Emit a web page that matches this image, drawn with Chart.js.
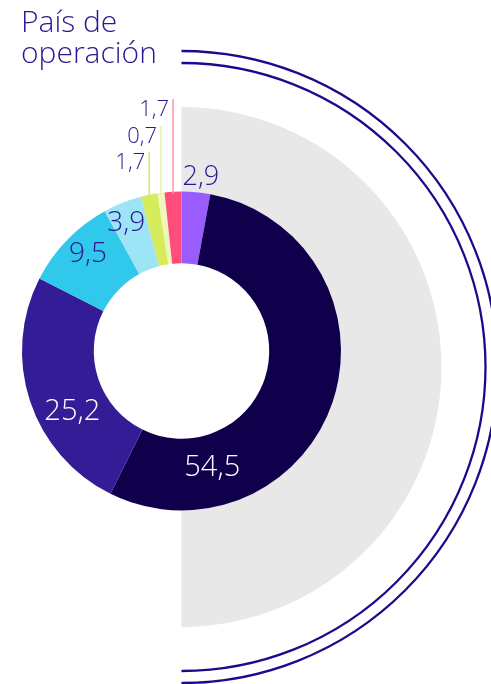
<!DOCTYPE html>
<html>
<head>
<meta charset="utf-8">
<script src="https://cdn.jsdelivr.net/npm/chart.js@4/dist/chart.umd.min.js"></script>
<style>
  body { margin: 0; background: #fff; }
  #wrap { position: relative; width: 491px; height: 684px; }
  #title {
    position: absolute; left: 21px; top: 5px; margin: 0;
    font-family: "Open Sans", sans-serif; font-weight: 300;
    font-size: 30px; line-height: 31px; color: #2b1890;
  }
  canvas { position: absolute; left: 0; top: 0; }
</style>
</head>
<body>
<div id="wrap">
  <canvas id="chart" width="491" height="684"></canvas>
  <h1 id="title">País de<br>operación</h1>
</div>
<script>
let categories = ["País 1", "País 2", "País 3", "País 4", "País 5", "País 6", "País 7", "País 8"];
let values = [2.9, 54.5, 25.2, 9.5, 3.9, 1.7, 0.7, 1.7];
let colors = ["#9b5cff", "#10004b", "#331c95", "#30c9ec", "#9ce4f6", "#d6ec5c", "#eef7bb", "#ff4c7a"];

// how each value label sits: inside the ring, above it, or on a leader line
let labelStyle = [
  { mode: "above", size: 27, color: "#2b1890" },
  { mode: "in", frac: 0.79, r: 121, size: 29, color: "#ffffff" },
  { mode: "in", frac: 0.38, r: 125, size: 29, color: "#ffffff" },
  { mode: "in", frac: 0.56, r: 135, size: 28, color: "#2b1890" },
  { mode: "in", frac: 0.38, r: 139, size: 28, color: "#2b1890" },
  { mode: "lead", top: 152, size: 22, color: "#2b1890", line: "#d6ec5c" },
  { mode: "lead", top: 126, size: 22, color: "#2b1890", line: "#e4f29a" },
  { mode: "lead", top: 99, size: 22, color: "#2b1890", line: "#ff93ad" }
];

function fmt(v) {
  return String(v).replace(".", ",");
}

const decor = {
  id: "decor",
  beforeDatasetsDraw(chart) {
    const ctx = chart.ctx;
    const arc = chart.getDatasetMeta(0).data[0];
    const cx = arc.x, cy = arc.y + 16;
    ctx.save();
    ctx.fillStyle = "#e8e8e8";
    ctx.beginPath();
    ctx.moveTo(cx, cy - 260);
    ctx.arc(cx, cy, 260, -Math.PI / 2, Math.PI / 2);
    ctx.closePath();
    ctx.fill();
    // white hole of the ring
    ctx.fillStyle = "#ffffff";
    ctx.beginPath();
    ctx.arc(arc.x, arc.y, arc.innerRadius + 1, 0, Math.PI * 2);
    ctx.fill();
    ctx.strokeStyle = "#1c0a8c";
    ctx.lineWidth = 2.3;
    [304, 316].forEach(r => {
      ctx.beginPath();
      ctx.arc(cx, cy, r, -Math.PI / 2, Math.PI / 2);
      ctx.stroke();
    });
    ctx.restore();
  }
};

const valueLabels = {
  id: "valueLabels",
  afterDatasetsDraw(chart) {
    const ctx = chart.ctx;
    const arcs = chart.getDatasetMeta(0).data;
    ctx.save();
    arcs.forEach((a, i) => {
      const p = a.getProps(["x", "y", "startAngle", "endAngle", "outerRadius"], true);
      const st = labelStyle[i];
      const text = fmt(values[i]);
      ctx.font = "300 " + st.size + "px 'Open Sans'";
      ctx.fillStyle = st.color;
      if (st.mode == "in") {
        const ang = p.startAngle + st.frac * (p.endAngle - p.startAngle);
        ctx.textAlign = "center";
        ctx.textBaseline = "middle";
        ctx.fillText(text, p.x + st.r * Math.cos(ang), p.y + st.r * Math.sin(ang));
      } else if (st.mode == "above") {
        ctx.textAlign = "left";
        ctx.textBaseline = "alphabetic";
        ctx.fillText(text, p.x + 1, p.y - p.outerRadius - 7);
      } else {
        const mid = (p.startAngle + p.endAngle) / 2;
        const lx = p.x + p.outerRadius * Math.cos(mid);
        const ly = p.y + p.outerRadius * Math.sin(mid);
        ctx.strokeStyle = st.line;
        ctx.lineWidth = 1.5;
        ctx.beginPath();
        ctx.moveTo(lx, ly + 2);
        ctx.lineTo(lx, st.top);
        ctx.stroke();
        ctx.textAlign = "right";
        ctx.textBaseline = "alphabetic";
        ctx.fillText(text, lx - 4, st.top + 17);
      }
    });
    ctx.restore();
  }
};

new Chart(document.getElementById("chart"), {
  type: "doughnut",
  data: {
    labels: categories,
    datasets: [{
      data: values,
      backgroundColor: colors,
      borderWidth: 0
    }]
  },
  options: {
    responsive: false,
    animation: false,
    cutout: "55%",
    layout: { padding: { left: 22, right: 150, top: 191.5, bottom: 173.5 } },
    plugins: {
      legend: { display: false },
      tooltip: { enabled: false },
      title: { display: false }
    }
  },
  plugins: [decor, valueLabels]
});
</script>
</body>
</html>
